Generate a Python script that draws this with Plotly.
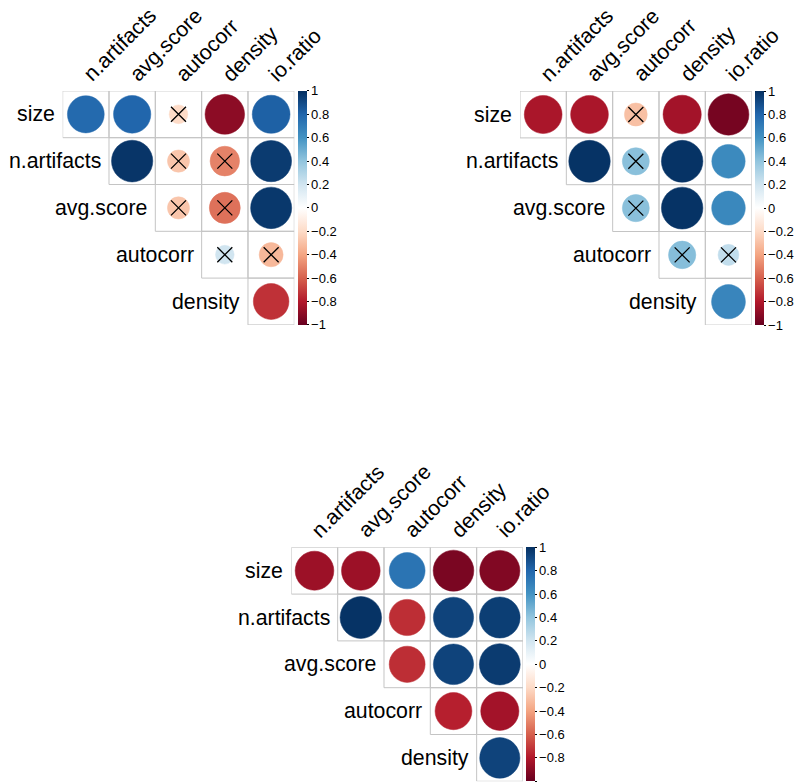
import plotly.graph_objects as go

# Variables of the correlation matrices
variables = ["size", "n.artifacts", "avg.score", "autocorr", "density", "io.ratio"]
row_labels = variables[:-1]
col_labels = variables[1:]

# Upper-triangle correlations (row by row, diagonal excluded)
corr_a = [
    [0.78, 0.80, -0.20, -0.90, 0.82],
    [0.98, -0.28, -0.50, 0.96],
    [-0.28, -0.55, 0.97],
    [0.20, -0.33],
    [-0.73],
]
insig_a = [
    [False, False, True, False, False],
    [False, True, True, False],
    [True, True, False],
    [True, True],
    [False],
]

corr_b = [
    [-0.82, -0.82, -0.30, -0.84, -0.96],
    [0.99, 0.42, 0.99, 0.64],
    [0.42, 0.99, 0.65],
    [0.43, 0.25],
    [0.66],
]
insig_b = [
    [False, False, True, False, False],
    [False, True, False, False],
    [True, False, False],
    [True, True],
    [False],
]

corr_c = [
    [-0.86, -0.86, 0.74, -0.95, -0.93],
    [0.99, -0.74, 0.93, 0.95],
    [-0.74, 0.93, 0.96],
    [-0.78, -0.84],
    [0.93],
]
insig_c = [
    [False, False, False, False, False],
    [False, False, False, False],
    [False, False, False],
    [False, False],
    [False],
]

cb_ticks = [1, 0.8, 0.6, 0.4, 0.2, 0, -0.2, -0.4, -0.6, -0.8, -1]

# RdBu diverging palette (-1 .. 1)
palette = ["#67001F", "#B2182B", "#D6604D", "#F4A582", "#FDDBC7", "#FFFFFF",
           "#D1E5F0", "#92C5DE", "#4393C3", "#2166AC", "#053061"]
colorscale = [[i / (len(palette) - 1), c] for i, c in enumerate(palette)]


def hex_rgb(h):
    h = h.lstrip("#")
    return tuple(int(h[i:i + 2], 16) for i in (0, 2, 4))


def value_color(v):
    t = (v + 1) / 2 * (len(palette) - 1)
    i = min(int(t), len(palette) - 2)
    f = t - i
    a, b = hex_rgb(palette[i]), hex_rgb(palette[i + 1])
    rgb = [round(a[k] + (b[k] - a[k]) * f) for k in range(3)]
    return "rgb(%d,%d,%d)" % tuple(rgb)


W, H = 794, 782
CELL = 46.8
FONT = "Liberation Sans, Arial, sans-serif"
LABEL_SIZE = 21.3

# panel placement: (grid left px, grid top px)
panels = [
    (corr_a, insig_a, 63.3, 90.9),
    (corr_b, insig_b, 525.3, 91.1),
    (corr_c, insig_c, 294.3, 547.3),
]

fig = go.Figure()
grid_shapes = []
circle_shapes = []
annotations = []
layout_axes = {}

for k, (corr, insig, gx, gy) in enumerate(panels):
    n = len(col_labels)
    side = CELL * n
    xa = "x" if k == 0 else "x%d" % (k + 1)
    ya = "y" if k == 0 else "y%d" % (k + 1)
    xkey = "xaxis" if k == 0 else "xaxis%d" % (k + 1)
    ykey = "yaxis" if k == 0 else "yaxis%d" % (k + 1)
    layout_axes[xkey] = dict(domain=[gx / W, (gx + side) / W], range=[0.5, n + 0.5],
                             visible=False, fixedrange=True, anchor=ya)
    layout_axes[ykey] = dict(domain=[1 - (gy + side) / H, 1 - gy / H], range=[n + 0.5, 0.5],
                             visible=False, fixedrange=True, anchor=xa)

    xs, ys, vals, txt = [], [], [], []
    xx, xy = [], []
    for r, row in enumerate(corr):
        for j, v in enumerate(row):
            c = r + j + 1  # column index (1-based)
            y = r + 1
            grid_shapes.append(dict(type="rect", xref=xa, yref=ya, x0=c - 0.5, x1=c + 0.5,
                                    y0=y - 0.5, y1=y + 0.5,
                                    line=dict(color="#C4C4C4", width=1), layer="below"))
            rad = 0.45 * abs(v) ** 0.5
            col = value_color(v)
            circle_shapes.append(dict(type="circle", xref=xa, yref=ya, x0=c - rad, x1=c + rad,
                                      y0=y - rad, y1=y + rad, fillcolor=col,
                                      line=dict(color=col, width=0.5), layer="below"))
            xs.append(c)
            ys.append(y)
            vals.append(v)
            txt.append("%s ~ %s: %.2f" % (row_labels[r], col_labels[c - 1], v))
            if insig[r][j]:
                xx.append(c)
                xy.append(y)

    # colour key (invisible markers carrying the colour scale)
    fig.add_trace(go.Scatter(
        x=xs, y=ys, xaxis=xa, yaxis=ya, mode="markers", text=txt, hoverinfo="text",
        marker=dict(size=30, opacity=0, color=vals, colorscale=colorscale, cmin=-1, cmax=1,
                    showscale=True,
                    colorbar=dict(x=(gx + side + 3.4) / W, xanchor="left", xpad=0,
                                  y=1 - gy / H, yanchor="top", ypad=0,
                                  lenmode="pixels", len=side, thickness=9,
                                  thicknessmode="pixels", outlinewidth=0,
                                  tickmode="array", tickvals=cb_ticks,
                                  ticktext=[("%g" % t).replace("-", "\u2212") for t in cb_ticks],
                                  ticks="outside", ticklen=2, tickcolor="black",
                                  tickfont=dict(family=FONT, size=13, color="black"))),
        showlegend=False))

    # non-significant correlations are crossed out
    if xx:
        fig.add_trace(go.Scatter(
            x=xx, y=xy, xaxis=xa, yaxis=ya, mode="markers", hoverinfo="skip",
            marker=dict(symbol="x-thin-open", size=15, color="black",
                        line=dict(color="black", width=1.3)),
            showlegend=False))

    # row labels
    for r, lab in enumerate(row_labels):
        annotations.append(dict(text=lab, xref="paper", yref="paper",
                                x=(gx + r * CELL - 6) / W, y=1 - (gy + (r + 0.5) * CELL) / H,
                                xanchor="right", yanchor="middle", showarrow=False,
                                font=dict(family=FONT, size=LABEL_SIZE, color="black")))
    # rotated column labels
    for c, lab in enumerate(col_labels):
        cx = gx + (c + 0.5) * CELL
        annotations.append(dict(text=lab, xref="paper", yref="paper",
                                x=(cx - 10) / W, y=1 - (gy - 2) / H,
                                xanchor="left", yanchor="bottom", textangle=-45,
                                showarrow=False,
                                font=dict(family=FONT, size=LABEL_SIZE, color="black")))

fig.update_layout(width=W, height=H, margin=dict(l=0, r=0, t=0, b=0),
                  paper_bgcolor="white", plot_bgcolor="white",
                  shapes=grid_shapes + circle_shapes, annotations=annotations, **layout_axes)

fig.write_html("out.html")
